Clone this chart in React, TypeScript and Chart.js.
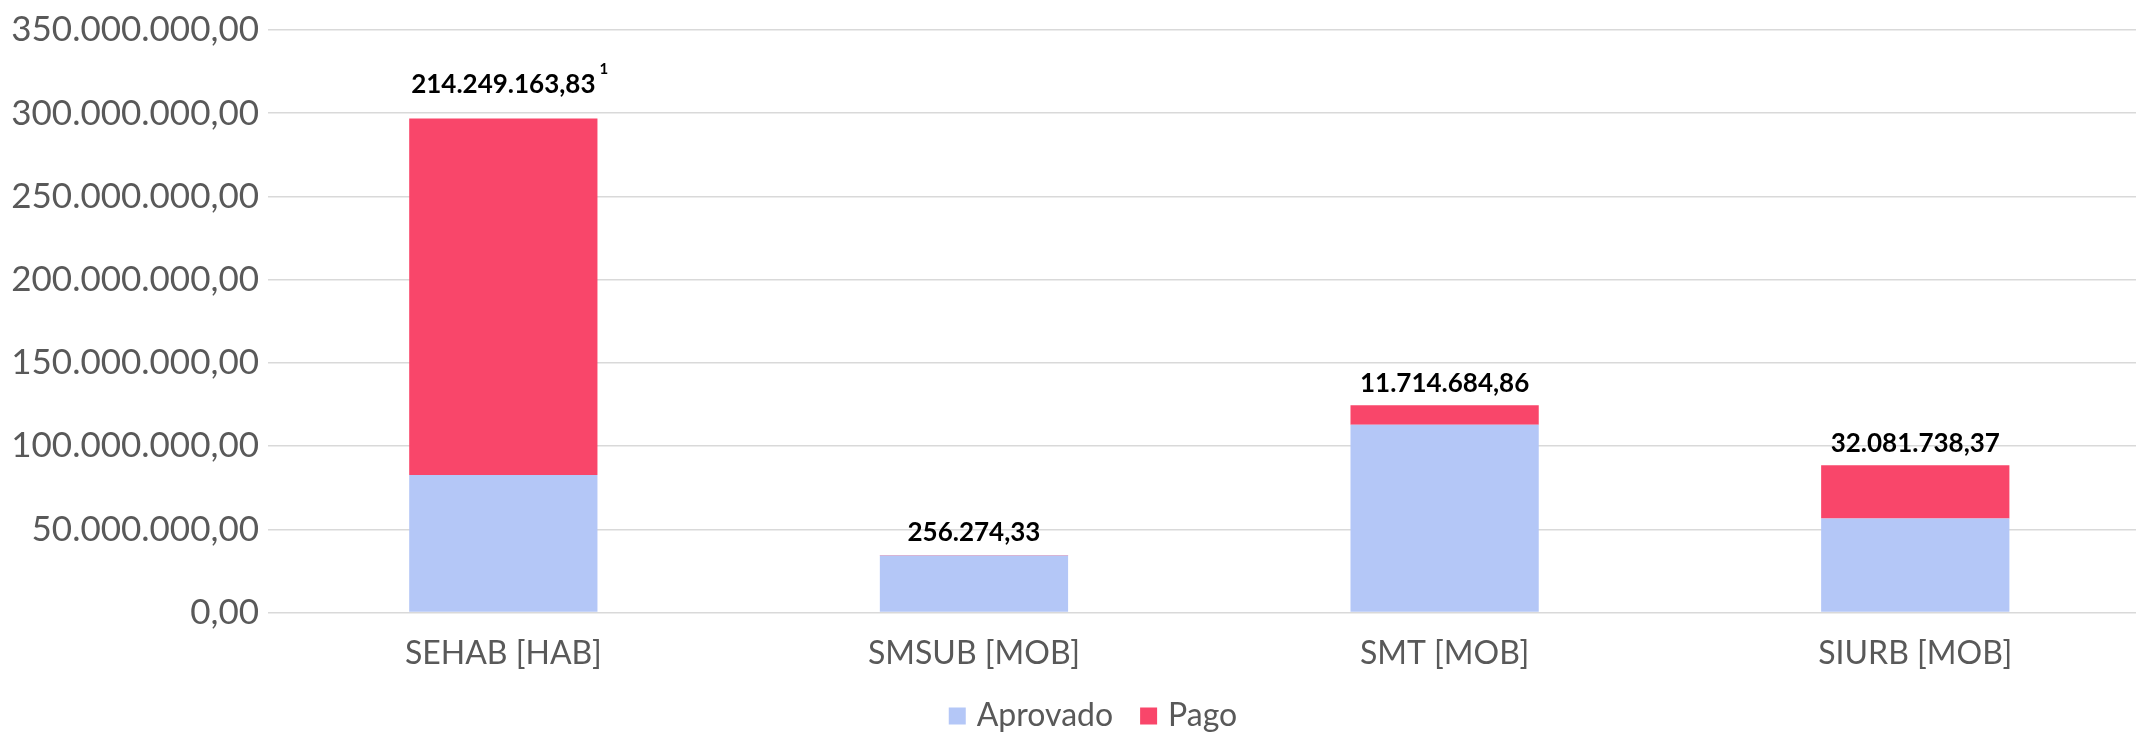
import React, { useEffect, useRef } from 'react';
import { Chart, registerables } from 'chart.js';

Chart.register(...registerables);

// ---- data ----
const categories = ['SEHAB [HAB]', 'SMSUB [MOB]', 'SMT [MOB]', 'SIURB [MOB]'];
const aprovado = [82600000, 34350000, 112800000, 56500000];
const pago = [214249163.83, 256274.33, 11714684.86, 32081738.37];
const footnotes = ['1', '', '', ''];
const seriesNames = ['Aprovado', 'Pago'];
const seriesColors = ['#b4c7f7', '#f9466a'];
const Y_MAX = 350000000;
const Y_STEP = 50000000;
const X_MIN = -0.5;
const X_MAX = 3.469;

function fmtBR(v: number): string {
  const [intPart, dec] = Math.abs(v).toFixed(2).split('.');
  const dotted = intPart.replace(/\B(?=(\d{3})+(?!\d))/g, '.');
  return (v < 0 ? '-' : '') + dotted + ',' + dec;
}

const FONT = 'Lato, "Open Sans", sans-serif';

const valueLabelPlugin = {
  id: 'valueLabels',
  afterDatasetsDraw(chart: any) {
    const ctx = chart.ctx;
    const lastIdx = chart.data.datasets.length - 1;
    const meta = chart.getDatasetMeta(lastIdx);
    ctx.save();
    meta.data.forEach((el: any, i: number) => {
      const text = fmtBR(pago[i]);
      const note = footnotes[i];
      const y = el.y - (note ? 34 : 22);
      ctx.font = `bold 26px ${FONT}`;
      ctx.fillStyle = '#000000';
      ctx.textAlign = 'center';
      ctx.textBaseline = 'middle';
      ctx.fillText(text, el.x, y);
      if (note) {
        const w = ctx.measureText(text).width;
        ctx.font = `bold 15px ${FONT}`;
        ctx.textAlign = 'left';
        ctx.fillText(note, el.x + w / 2 + 4, y - 15);
      }
    });
    ctx.restore();
  },
};

const legendPlugin = {
  id: 'customLegend',
  afterDraw(chart: any) {
    const ctx = chart.ctx;
    ctx.save();
    ctx.font = `400 32px ${FONT}`;
    const box = 17;
    const gapText = 11;
    const gapItem = 27;
    const items = chart.data.datasets.map((ds: any) => ({
      text: ds.label,
      color: ds.backgroundColor,
      w: ctx.measureText(ds.label).width,
    }));
    const total =
      items.reduce((s: number, it: any) => s + box + gapText + it.w, 0) +
      gapItem * (items.length - 1);
    let x = 1093 - total / 2;
    const y = 716;
    ctx.textBaseline = 'middle';
    ctx.textAlign = 'left';
    items.forEach((it: any) => {
      ctx.fillStyle = it.color;
      ctx.fillRect(x, y - box / 2, box, box);
      x += box + gapText;
      ctx.fillStyle = '#595959';
      ctx.fillText(it.text, x, y);
      x += it.w + gapItem;
    });
    ctx.restore();
  },
};

export default function App() {
  const ref = useRef<HTMLCanvasElement | null>(null);

  useEffect(() => {
    document.body.style.margin = '0';
    if (!ref.current) return;
    const chart = new Chart(ref.current, {
      type: 'bar',
      data: {
        datasets: [
          {
            label: seriesNames[0],
            data: categories.map((_, i) => ({ x: i, y: aprovado[i] })),
            backgroundColor: seriesColors[0],
            stack: 's',
            categoryPercentage: 1,
            barPercentage: 0.4,
          },
          {
            label: seriesNames[1],
            data: categories.map((_, i) => ({ x: i, y: pago[i] })),
            backgroundColor: seriesColors[1],
            stack: 's',
            categoryPercentage: 1,
            barPercentage: 0.4,
          },
        ],
      },
      options: {
        responsive: false,
        devicePixelRatio: 1,
        animation: false,
        layout: { padding: { top: 28, bottom: 38, left: 0, right: 0 } },
        plugins: {
          legend: { display: false },
          tooltip: { enabled: false },
        },
        scales: {
          x: {
            type: 'linear',
            stacked: true,
            offset: false,
            min: X_MIN,
            max: X_MAX,
            grid: { display: false, drawTicks: false, offset: false },
            border: { display: false },
            afterBuildTicks: (scale: any) => {
              scale.ticks = categories.map((_, i) => ({ value: i }));
            },
            ticks: {
              autoSkip: false,
              maxRotation: 0,
              padding: 22,
              color: '#595959',
              font: { family: FONT, size: 32, weight: '400' },
              callback: (v: any) => categories[v] ?? '',
            },
          },
          y: {
            stacked: true,
            min: 0,
            max: Y_MAX,
            afterFit: (scale: any) => {
              scale.width = 268;
            },
            grid: { color: '#d9d9d9', lineWidth: 1.5, drawTicks: false },
            border: { display: false },
            ticks: {
              stepSize: Y_STEP,
              padding: 9,
              color: '#595959',
              font: { family: FONT, size: 35, weight: '400' },
              callback: (v: any) => fmtBR(Number(v)),
            },
          },
        },
      },
      plugins: [valueLabelPlugin, legendPlugin],
    });
    return () => chart.destroy();
  }, []);

  return (
    <div style={{ width: 2136, height: 733 }}>
      <canvas ref={ref} width={2136} height={733} style={{ display: 'block' }} />
    </div>
  );
}
